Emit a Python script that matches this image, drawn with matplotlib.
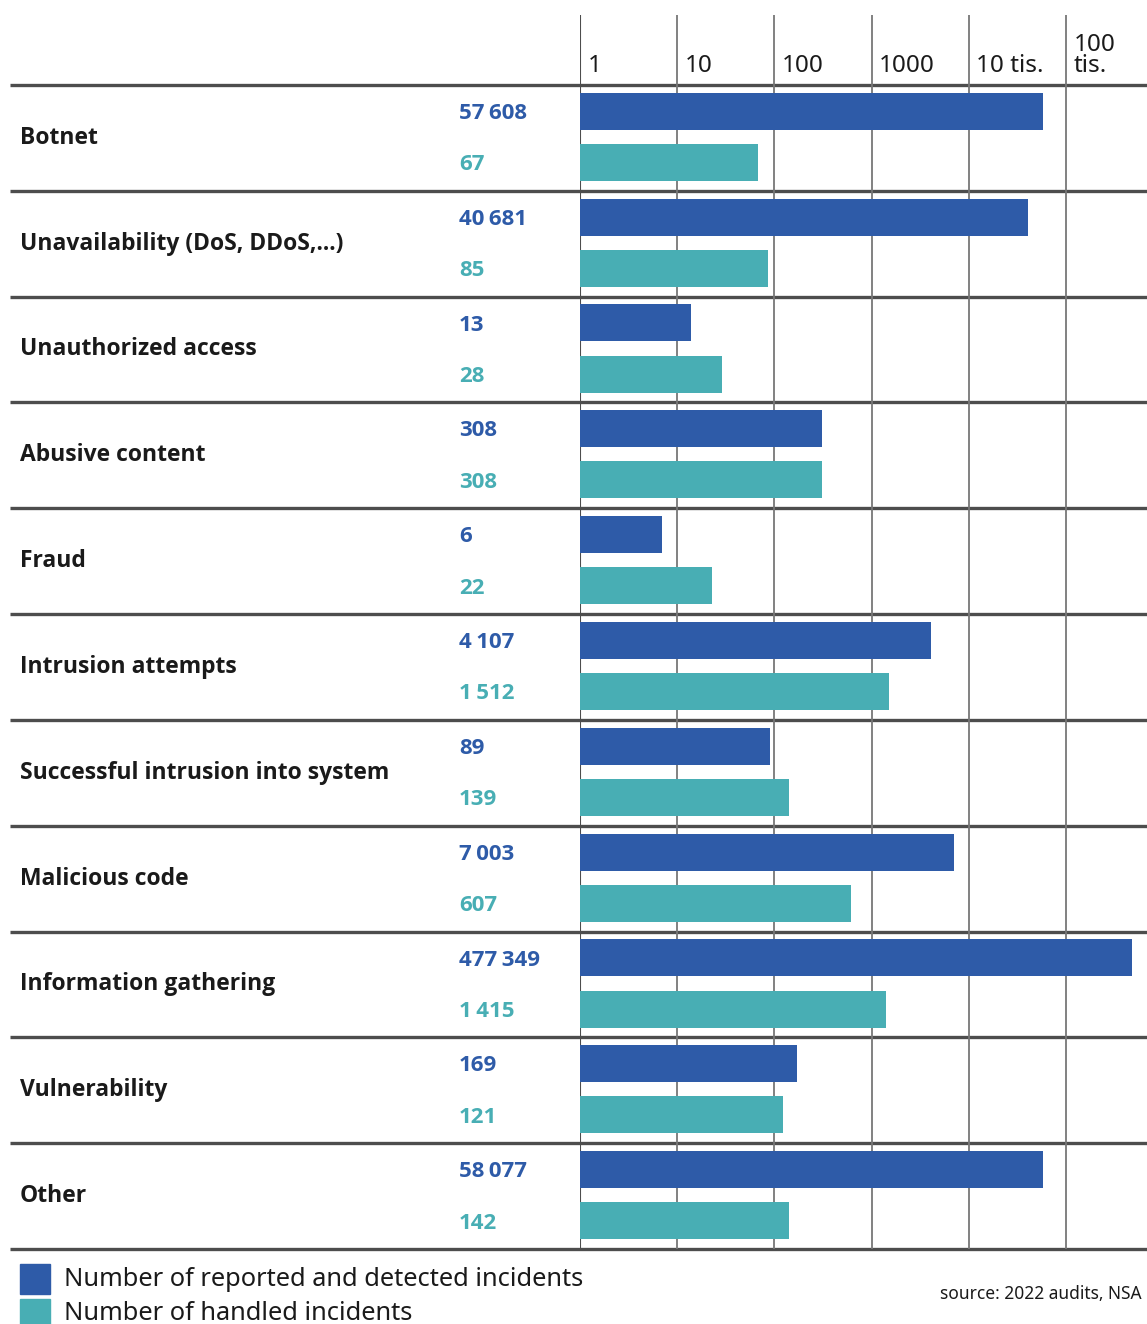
import numpy as np
import matplotlib.pyplot as plt
from matplotlib.patches import Rectangle

plt.rcParams['font.family'] = ['Noto Sans', 'DejaVu Sans']
bold_font = ['Open Sans', 'DejaVu Sans']

categories = ["Botnet", "Unavailability (DoS, DDoS,...)", "Unauthorized access",
              "Abusive content", "Fraud", "Intrusion attempts",
              "Successful intrusion into system", "Malicious code",
              "Information gathering", "Vulnerability", "Other"]
reported = [57608, 40681, 13, 308, 6, 4107, 89, 7003, 477349, 169, 58077]
handled = [67, 85, 28, 308, 22, 1512, 139, 607, 1415, 121, 142]

tick_values = [1, 10, 100, 1000, 10000, 100000]
tick_labels = ["1", "10", "100", "1000", "10 tis.", "100\ntis."]

blue = "#2e5ba8"
teal = "#48aeb4"
line_col = "#4d4d4d"

W, H = 1147, 1324
fig = plt.figure(figsize=(W / 100, H / 100), dpi=100)

n = len(categories)
head = 0.66          # header height in row units
top_px, bot_px = 15, 1249

# background axes for labels and row separators
bg = fig.add_axes([0, (H - bot_px) / H, 1, (bot_px - top_px) / H])
bg.set_xlim(0, W)
bg.set_ylim(n, -head)
bg.axis("off")

# bar axes, log scale starting at 1
ax = fig.add_axes([580 / W, (H - bot_px) / H, (W - 580) / W, (bot_px - top_px) / H])
ax.set_xscale("log")
ax.set_xlim(1, 10 ** (567 / 97.2))
ax.set_ylim(n, -head)
ax.axis("off")

for v, lab in zip(tick_values, tick_labels):
    ax.axvline(v, color="#777777", lw=1.3, zorder=1)
    ax.text(v * 1.2, -0.06, lab, fontsize=17.5, color="#1a1a1a",
            va="bottom", ha="left", linespacing=0.85)
ax.axvline(1, color=line_col, lw=1.5, zorder=1)

y = np.arange(n)
bh = 0.35
ax.barh(y + 0.25, reported, left=1, height=bh, color=blue, zorder=2)
ax.barh(y + 0.733, handled, left=1, height=bh, color=teal, zorder=2)

def fmt(v):
    return f"{v:,}".replace(",", "\u2009")

for i in range(n + 1):
    bg.plot([10, W], [i, i], color=line_col, lw=2.4, solid_capstyle="butt",
            zorder=3, clip_on=False)

for i, cat in enumerate(categories):
    bg.text(20, i + 0.5, cat, fontsize=16.5, fontweight="bold", color="#1a1a1a",
            va="center", ha="left", family=bold_font)
    bg.text(459, i + 0.27, fmt(reported[i]), fontsize=16, fontweight="bold",
            color=blue, va="center", ha="left", family=bold_font)
    bg.text(459, i + 0.755, fmt(handled[i]), fontsize=16, fontweight="bold",
            color=teal, va="center", ha="left", family=bold_font)

# legend
fig.patches.append(Rectangle((20 / W, (H - 1294) / H), 30 / W, 30 / H,
                             transform=fig.transFigure, color=blue))
fig.patches.append(Rectangle((20 / W, (H - 1329) / H), 30 / W, 30 / H,
                             transform=fig.transFigure, color=teal))
fig.text(64 / W, (H - 1279) / H, "Number of reported and detected incidents",
         fontsize=18.3, color="#1a1a1a", va="center", ha="left")
fig.text(64 / W, (H - 1313) / H, "Number of handled incidents",
         fontsize=18.3, color="#1a1a1a", va="center", ha="left")
fig.text(940 / W, (H - 1294) / H, "source: 2022 audits, NSA",
         fontsize=12.5, color="#1a1a1a", va="center", ha="left")

fig.savefig("out.png", dpi=100)
